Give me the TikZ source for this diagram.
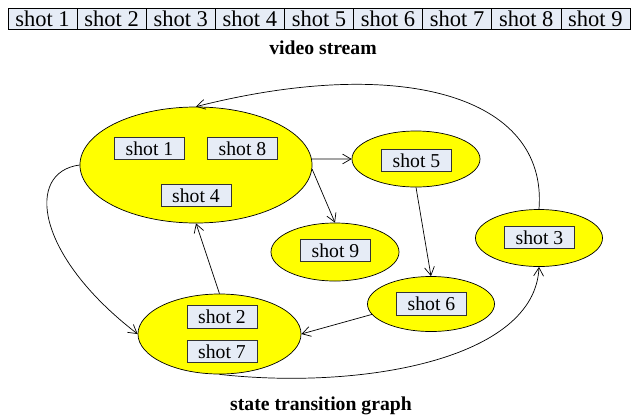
\documentclass[tikz,border=0pt]{standalone}
\usepackage{fontspec}
\setmainfont{Liberation Serif}
\usetikzlibrary{shapes.geometric,arrows.meta}
\definecolor{amarillo}{HTML}{FFFF00}
\definecolor{celeste}{HTML}{E6ECF6}
\tikzset{
  estado/.style={ellipse, draw, fill=amarillo, inner sep=0pt, line width=0.5pt},
  toma/.style={draw=black!80, fill=celeste, minimum width=1.75cm, minimum height=0.5625cm, inner sep=0pt, font=\fontsize{14}{16}\selectfont},
  celda/.style={draw, fill=celeste, minimum width=1.7275cm, minimum height=0.525cm, inner sep=0pt, font=\fontsize{16}{18}\selectfont},
  titulo/.style={font=\fontsize{14}{16}\selectfont\bfseries, anchor=base},
  flecha/.style={-{Straight Barb[length=6pt,width=7pt]}, line width=0.5pt}
}
\begin{document}
\begin{tikzpicture}[x=0.025cm, y=-0.025cm]
  \useasboundingbox (0,0) rectangle (632,416);

  % Secuencia de tomas
  \foreach \i in {1,...,9} {
      \node[celda] (s\i) at ({8+69.1*(\i-0.5)}, 18.5) {shot \i};
    }
  \node[titulo] (video) at (323,54) {video stream};

  % Estados (elipses)
  \node[estado, minimum width=5.8cm, minimum height=2.9cm] (e1) at (196,165) {};
  \node[estado, minimum width=3.2cm, minimum height=1.4cm] (e5) at (416,159) {};
  \node[estado, minimum width=3.2cm, minimum height=1.45cm] (e9) at (335,252) {};
  \node[estado, minimum width=3.175cm, minimum height=1.425cm] (e3) at (539,238) {};
  \node[estado, minimum width=3.175cm, minimum height=1.375cm] (e6) at (431,304) {};
  \node[estado, minimum width=4.075cm, minimum height=2cm] (e2) at (219.5,334) {};

  % Tomas dentro de cada estado
  \node[toma] (t1) at (149.5,148.5) {shot 1};
  \node[toma] (t8) at (242.5,148.5) {shot 8};
  \node[toma] (t4) at (196,195.5) {shot 4};
  \node[toma] (t5) at (416.5,160.5) {shot 5};
  \node[toma] (t9) at (335.5,250.5) {shot 9};
  \node[toma] (t3) at (539.5,237.5) {shot 3};
  \node[toma] (t6) at (431.5,304) {shot 6};
  \node[toma] (t2) at (222,317) {shot 2};
  \node[toma] (t7) at (222,351.5) {shot 7};

  % Transiciones
  \draw[flecha] (e3.north) .. controls (548,95) and (400,55) .. (e1.north);
  \draw[flecha] (e1.west) .. controls (25,172) and (35,255) .. (e2.west);
  \draw[flecha] (e2.north) -- (e1.south);
  \draw[flecha] (e1.3) -- (e5.west);
  \draw[flecha] (e1.-2) -- (e9.north);
  \draw[flecha] (e5.south) -- (e6.north);
  \draw[flecha] (e6.190) -- (e2.east);
  \draw[flecha] (e2.south) .. controls (360,390) and (535,360) .. (e3.south);

  \node[titulo] (grafo) at (321,410) {state transition graph};
\end{tikzpicture}
\end{document}
